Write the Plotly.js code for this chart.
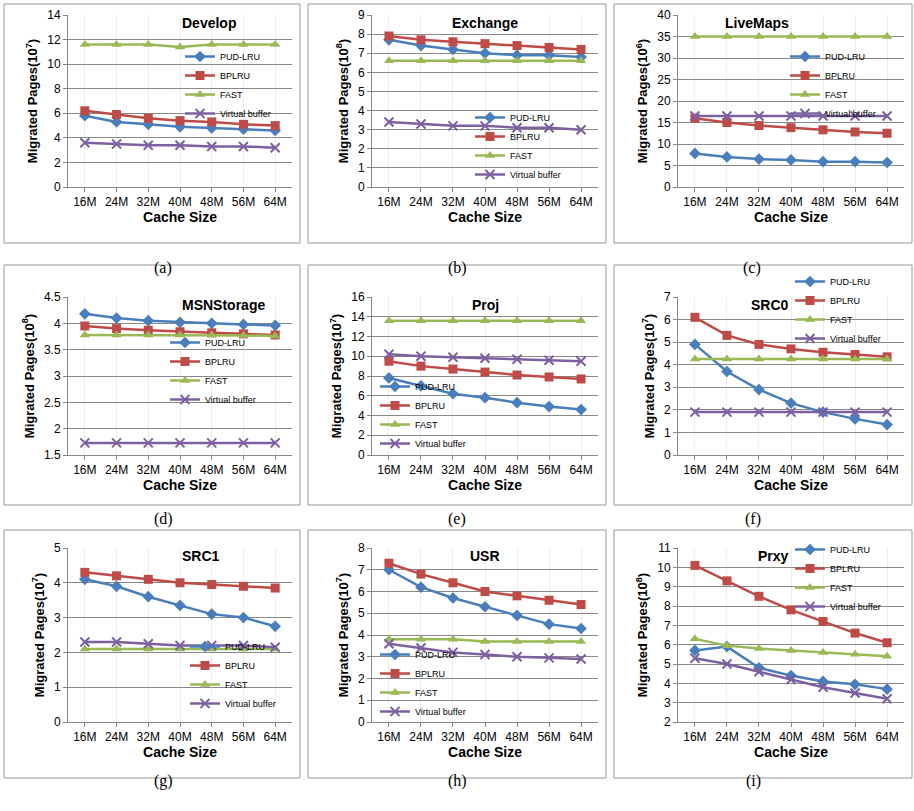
<!DOCTYPE html>
<html><head><meta charset="utf-8">
<script src="https://cdn.plot.ly/plotly-3.0.1.min.js"></script>
<style>body{margin:0;background:#fff}#g{width:914px;height:811px}</style>
</head><body><div id="g"></div>
<script>
var cacheSizes = ['16M','24M','32M','40M','48M','56M','64M'];
var seriesNames = ['PUD-LRU','BPLRU','FAST','Virtual buffer'];

// values per panel: PUD-LRU, BPLRU, FAST, Virtual buffer
var developVals = [[5.8,5.3,5.1,4.9,4.8,4.7,4.6],[6.2,5.9,5.6,5.4,5.3,5.1,5.0],[11.6,11.6,11.6,11.4,11.6,11.6,11.6],[3.6,3.5,3.4,3.4,3.3,3.3,3.2]];
var exchangeVals = [[7.7,7.4,7.2,7.0,6.9,6.9,6.8],[7.9,7.7,7.6,7.5,7.4,7.3,7.2],[6.6,6.6,6.6,6.6,6.6,6.6,6.6],[3.4,3.3,3.2,3.2,3.1,3.1,3.0]];
var liveMapsVals = [[7.8,7.0,6.5,6.3,5.9,5.9,5.7],[16,15,14.3,13.8,13.3,12.8,12.5],[35,35,35,35,35,35,35],[16.5,16.5,16.5,16.5,16.5,16.5,16.5]];
var msnVals = [[4.18,4.1,4.05,4.02,4.0,3.98,3.96],[3.95,3.9,3.87,3.84,3.82,3.8,3.78],[3.78,3.78,3.78,3.78,3.78,3.77,3.76],[1.73,1.73,1.73,1.73,1.73,1.73,1.73]];
var projVals = [[7.8,7.0,6.2,5.8,5.3,4.9,4.6],[9.5,9.0,8.7,8.4,8.1,7.9,7.7],[13.6,13.6,13.6,13.6,13.6,13.6,13.6],[10.2,10.0,9.9,9.8,9.7,9.6,9.5]];
var src0Vals = [[4.9,3.7,2.9,2.3,1.9,1.6,1.35],[6.1,5.3,4.9,4.7,4.55,4.45,4.35],[4.25,4.25,4.25,4.25,4.25,4.25,4.25],[1.9,1.9,1.9,1.9,1.9,1.9,1.9]];
var src1Vals = [[4.1,3.9,3.6,3.35,3.1,3.0,2.75],[4.3,4.2,4.1,4.0,3.95,3.9,3.85],[2.1,2.1,2.1,2.1,2.1,2.1,2.1],[2.3,2.3,2.25,2.2,2.2,2.2,2.15]];
var usrVals = [[7.0,6.2,5.7,5.3,4.9,4.5,4.3],[7.3,6.8,6.4,6.0,5.8,5.6,5.4],[3.8,3.8,3.8,3.7,3.7,3.7,3.7],[3.6,3.4,3.2,3.1,3.0,2.95,2.9]];
var prxyVals = [[5.7,5.9,4.8,4.4,4.1,3.95,3.7],[10.1,9.3,8.5,7.8,7.2,6.6,6.1],[6.3,5.95,5.8,5.7,5.6,5.5,5.4],[5.3,5.0,4.6,4.2,3.8,3.5,3.2]];

var panels = [
  {t:'Develop', v:developVals, e:7, r:[0,14], d:2, cap:'(a)', lg:[180,42]},
  {t:'Exchange', v:exchangeVals, e:8, r:[0,9], d:1, cap:'(b)', lg:[470,103]},
  {t:'LiveMaps', v:liveMapsVals, e:6, r:[0,40], d:5, cap:'(c)', lg:[785,42]},
  {t:'MSNStorage', v:msnVals, e:8, r:[1.5,4.5], d:0.5, cap:'(d)', lg:[165,328]},
  {t:'Proj', v:projVals, e:7, r:[0,16], d:2, cap:'(e)', lg:[375,372]},
  {t:'SRC0', v:src0Vals, e:7, r:[0,7], d:1, cap:'(f)', lg:[790,267]},
  {t:'SRC1', v:src1Vals, e:7, r:[0,5], d:1, cap:'(g)', lg:[185,632]},
  {t:'USR', v:usrVals, e:7, r:[0,8], d:1, cap:'(h)', lg:[375,640]},
  {t:'Prxy', v:prxyVals, e:8, r:[2,11], d:1, cap:'(i)', lg:[790,535]}
];

var colors = ['#4A7EBB','#BE4B48','#98B954','#7D60A0'];
var symbols = ['diamond','square','triangle-up','x-thin-open'];
var W = 914, H = 811;
var colX = [[4,300],[308,606],[614,912]];
var rowY = [[4,243],[265,505],[530,778]];
var plotY = [[15,187],[297,455],[548,722]];
var px = function(x){return x/W;}, py = function(y){return 1-y/H;};

var data = [], layout = {width:W, height:H, margin:{l:0,r:0,t:0,b:0}, showlegend:true,
  paper_bgcolor:'#fff', plot_bgcolor:'#fff', shapes:[], annotations:[],
  font:{family:'Liberation Sans, Arial', size:11, color:'#000'}};

panels.forEach(function(p, i){
  var c = i % 3, r = Math.floor(i / 3), n = i + 1;
  var xa = 'xaxis' + (n > 1 ? n : ''), ya = 'yaxis' + (n > 1 ? n : '');
  var lgName = 'legend' + (n > 1 ? n : '');
  var x0 = colX[c][0] + 64, x1 = colX[c][1] - 8;
  layout[xa] = {domain:[px(x0), px(x1)], anchor:'y'+n, type:'category', showline:true, linecolor:'#888',
    ticks:'outside', ticklen:4, tickcolor:'#888', tickfont:{size:12},
    title:{text:'<b>Cache Size</b>', font:{size:14}, standoff:2}};
  layout[ya] = {domain:[py(plotY[r][1]), py(plotY[r][0])], anchor:'x'+n, range:p.r, dtick:p.d,
    showline:true, linecolor:'#888', gridcolor:'#888', zeroline:false, ticks:'outside', ticklen:4, tickcolor:'#888',
    tickfont:{size:12},
    title:{text:'<b>Migrated Pages(10<sup>' + p.e + '</sup>)</b>', font:{size:13}, standoff:6}};
  layout[lgName] = {x:px(p.lg[0]), y:py(p.lg[1]), xanchor:'left', yanchor:'top', bgcolor:'rgba(0,0,0,0)',
    font:{size:9}, tracegroupgap:0, itemwidth:30};
  p.v.forEach(function(vals, k){
    data.push({x:cacheSizes, y:vals, name:seriesNames[k], type:'scatter', mode:'lines+markers',
      xaxis:'x'+n, yaxis:'y'+n, legend:lgName,
      line:{color:colors[k], width:2.5},
      marker:{symbol:symbols[k], size:9, color:colors[k], line:{color:colors[k], width:k===3?2:0}}});
  });
  layout.shapes.push({type:'rect', xref:'paper', yref:'paper', x0:px(colX[c][0]), x1:px(colX[c][1]),
    y0:py(rowY[r][1]), y1:py(rowY[r][0]), line:{color:'#999', width:1}});
  layout.annotations.push({xref:'paper', yref:'paper', x:px((x0 + x1) / 2), y:py(plotY[r][0] - 2),
    yanchor:'top', text:'<b>' + p.t + '</b>', showarrow:false, font:{size:14}});
  layout.annotations.push({xref:'paper', yref:'paper', x:px((colX[c][0] + colX[c][1]) / 2), y:py(rowY[r][1] + 14),
    text:p.cap, showarrow:false, font:{family:'Liberation Serif, Times New Roman', size:16}});
});

Plotly.newPlot('g', data, layout, {staticPlot:true});
</script></body></html>
